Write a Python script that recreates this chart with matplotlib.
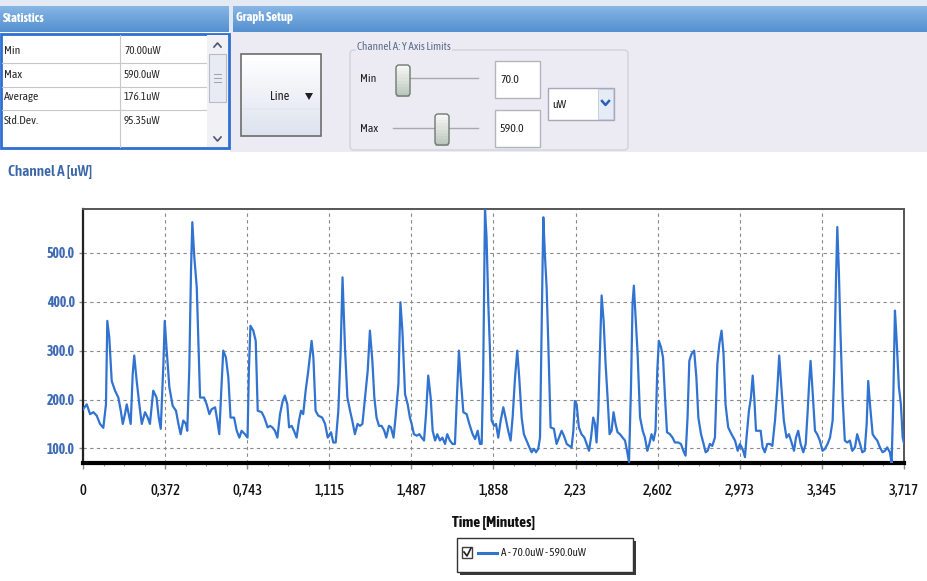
import numpy as np
import matplotlib
matplotlib.use('Agg')
import matplotlib.pyplot as plt
from matplotlib.patches import Rectangle, FancyBboxPatch
from matplotlib.ticker import MultipleLocator
from matplotlib.colors import to_rgb

# ---------------- data ----------------
time_min = [
    0.000, 0.017, 0.032, 0.047, 0.062, 0.077, 0.092, 0.104, 0.110, 0.119,
    0.130, 0.145, 0.160, 0.171, 0.180, 0.190, 0.198, 0.210, 0.216, 0.225,
    0.232, 0.243, 0.255, 0.266, 0.281, 0.293, 0.303, 0.318, 0.333, 0.343,
    0.352, 0.364, 0.370, 0.379, 0.391, 0.406, 0.421, 0.432, 0.442, 0.454,
    0.466, 0.472, 0.481, 0.489, 0.495, 0.504, 0.515, 0.522, 0.530, 0.548,
    0.560, 0.572, 0.582, 0.598, 0.608, 0.617, 0.626, 0.635, 0.647, 0.658,
    0.668, 0.684, 0.696, 0.708, 0.718, 0.733, 0.745,
    0.751, 0.758, 0.771, 0.782, 0.791, 0.809, 0.821, 0.836, 0.847, 0.857,
    0.869, 0.880, 0.892, 0.904, 0.914, 0.925, 0.933, 0.945, 0.955, 0.967,
    0.978, 0.987, 0.997, 1.008, 1.020, 1.035, 1.043, 1.053, 1.065, 1.083,
    1.096, 1.108, 1.123, 1.133, 1.144, 1.156, 1.166, 1.175, 1.186, 1.197,
    1.209, 1.219, 1.231, 1.243, 1.254, 1.265, 1.277, 1.289, 1.299, 1.310,
    1.319, 1.329, 1.340, 1.352, 1.364, 1.373, 1.385, 1.394, 1.406, 1.415,
    1.428, 1.437, 1.446, 1.458, 1.470, 1.480,
    1.488, 1.498, 1.511, 1.523, 1.533, 1.544, 1.553, 1.563, 1.574, 1.583,
    1.594, 1.604, 1.616, 1.627, 1.639, 1.649, 1.661, 1.673, 1.684, 1.692,
    1.702, 1.711, 1.722, 1.737, 1.749, 1.764, 1.775, 1.787, 1.797, 1.805,
    1.812, 1.820, 1.827, 1.835, 1.842, 1.850, 1.861, 1.870, 1.880, 1.891,
    1.903, 1.913, 1.925, 1.936, 1.945, 1.956, 1.966, 1.975, 1.986, 1.996,
    2.008, 2.021, 2.031, 2.042, 2.051, 2.061, 2.069, 2.076, 2.084, 2.091,
    2.099, 2.107, 2.117, 2.132, 2.144, 2.155, 2.167, 2.177, 2.190, 2.202,
    2.212, 2.220, 2.227, 2.235,
    2.245, 2.257, 2.270, 2.280, 2.291, 2.300, 2.310, 2.318, 2.325, 2.333,
    2.340, 2.348, 2.357, 2.366, 2.375, 2.384, 2.393, 2.402, 2.411, 2.420,
    2.431, 2.443, 2.454, 2.463, 2.472, 2.481, 2.488, 2.494, 2.502, 2.511,
    2.522, 2.534, 2.544, 2.555, 2.564, 2.574, 2.583, 2.592, 2.600, 2.607,
    2.617, 2.626, 2.635, 2.644, 2.657, 2.669, 2.680, 2.695, 2.707, 2.718,
    2.728, 2.737, 2.745, 2.755, 2.767, 2.777, 2.786, 2.798, 2.808, 2.819,
    2.828, 2.838, 2.849, 2.861, 2.872, 2.881, 2.891, 2.900, 2.909, 2.921,
    2.936, 2.952, 2.964, 2.974,
    2.982, 2.989, 2.997, 3.004, 3.015, 3.024, 3.032, 3.039, 3.047, 3.057,
    3.068, 3.077, 3.087, 3.098, 3.110, 3.121, 3.133, 3.143, 3.152, 3.163,
    3.173, 3.185, 3.196, 3.208, 3.219, 3.228, 3.238, 3.249, 3.261, 3.272,
    3.281, 3.288, 3.294, 3.303, 3.314, 3.324, 3.336, 3.348, 3.359, 3.371,
    3.382, 3.394, 3.401, 3.409, 3.415, 3.422, 3.430, 3.439, 3.449, 3.460,
    3.472, 3.483, 3.495, 3.505, 3.518, 3.528, 3.539, 3.548, 3.555, 3.563,
    3.575, 3.585, 3.596, 3.608, 3.620, 3.631, 3.641, 3.653, 3.661, 3.668,
    3.676, 3.683, 3.694, 3.703, 3.711, 3.717,
]
power_uw = [
    180, 190, 170, 174, 167, 150, 142, 190, 361, 327,
    238, 218, 204, 177, 150, 170, 190, 163, 150, 252,
    290, 238, 190, 150, 174, 163, 150, 218, 204, 163,
    140, 273, 361, 300, 225, 187, 177, 150, 129, 157,
    150, 136, 259, 464, 563, 491, 430, 327, 204, 204,
    190, 170, 180, 184, 157, 129, 218, 300, 286, 245,
    163, 163, 136, 122, 136, 129, 122,
    259, 351, 341, 320, 177, 174, 163, 143, 146, 143,
    136, 122, 170, 197, 208, 190, 143, 146, 136, 122,
    157, 177, 170, 218, 259, 320, 286, 177, 167, 163,
    150, 122, 133, 112, 112, 177, 293, 450, 307, 204,
    177, 157, 129, 150, 146, 150, 204, 259, 341, 279,
    204, 163, 146, 146, 136, 122, 146, 143, 122, 163,
    231, 399, 341, 211, 190, 163,
    150, 129, 126, 129, 122, 116, 170, 249, 204, 136,
    116, 129, 116, 122, 109, 129, 116, 109, 109, 197,
    300, 238, 174, 170, 150, 129, 119, 136, 109, 109,
    259, 590, 532, 395, 307, 157, 146, 150, 122, 157,
    184, 163, 136, 116, 163, 245, 300, 245, 163, 129,
    116, 102, 92, 99, 92, 99, 122, 327, 573, 498,
    430, 307, 143, 140, 109, 122, 136, 126, 109, 105,
    102, 136, 197, 190,
    143, 129, 122, 109, 95, 122, 163, 150, 112, 177,
    293, 413, 361, 273, 204, 129, 136, 174, 150, 133,
    129, 122, 116, 95, 72, 225, 396, 433, 368, 293,
    163, 136, 122, 95, 109, 129, 116, 136, 259, 320,
    307, 286, 204, 133, 129, 122, 112, 112, 109, 95,
    85, 163, 279, 293, 300, 245, 163, 129, 112, 92,
    95, 109, 105, 122, 273, 314, 341, 293, 190, 143,
    129, 116, 95, 109,
    102, 95, 82, 122, 177, 204, 249, 204, 136, 136,
    136, 102, 92, 109, 109, 105, 157, 218, 290, 218,
    157, 122, 129, 112, 95, 122, 136, 109, 92, 109,
    177, 238, 279, 218, 136, 129, 116, 95, 99, 109,
    122, 157, 259, 443, 553, 464, 327, 204, 116, 112,
    116, 95, 102, 129, 109, 92, 95, 150, 238, 190,
    129, 122, 116, 102, 92, 95, 102, 92, 70, 190,
    382, 327, 225, 190, 122, 110,
]

x_ticks = [0, 0.372, 0.743, 1.115, 1.487, 1.858, 2.23, 2.602, 2.973, 3.345, 3.717]
x_tick_labels = ['0', '0,372', '0,743', '1,115', '1,487', '1,858', '2,23',
                 '2,602', '2,973', '3,345', '3,717']
y_ticks = [100, 200, 300, 400, 500]
y_tick_labels = ['100.0', '200.0', '300.0', '400.0', '500.0']
y_min_limit = 70.0
y_max_limit = 590.0
x_max = 3.717

stats_labels = ['Min', 'Max', 'Average', 'Std.Dev.']
stats_values = ['70.00uW', '590.0uW', '176.1uW', '95.35uW']
unit_label = 'uW'
chart_title = 'Channel A [uW]'
x_label = 'Time [Minutes]'
legend_label = 'A - 70.0uW - 590.0uW'

# ---------------- style ----------------
NARROW = ['Asap Condensed', 'Archivo Narrow', 'DejaVu Sans']
LINE_COLOR = '#3173d0'
W, H = 928, 581

fig = plt.figure(figsize=(W / 100, H / 100), dpi=100)
fig.patch.set_facecolor('white')

ui = fig.add_axes([0, 0, 1, 1])
ui.set_xlim(0, W)
ui.set_ylim(H, 0)
ui.axis('off')


def mix(c1, c2, f):
    a, b = np.array(to_rgb(c1)), np.array(to_rgb(c2))
    return tuple(a + (b - a) * f)


def vgrad(x, y, w, h, c_top, c_bot, n=24, z=1):
    for i in range(n):
        ui.add_patch(Rectangle((x, y + i * h / n), w, h / n + 0.6,
                               facecolor=mix(c_top, c_bot, i / (n - 1)),
                               lw=0, zorder=z))


def txt(x, y, s, size=8, color='#202020', weight='normal', ha='left', z=5, **kw):
    ui.text(x, y, s, fontsize=size, color=color, fontweight=weight, ha=ha,
            va='center', family=NARROW, zorder=z, **kw)


# top strip and panel background
ui.add_patch(Rectangle((0, 0), W, 6, facecolor='#e4eaf4', lw=0, zorder=0))
ui.add_patch(Rectangle((230, 31), W - 230, 121, facecolor='#ecebf3', lw=0, zorder=0))

# headers
vgrad(0, 6, 229, 25, '#86b6e4', '#5690cf', z=1)
vgrad(233, 6, W - 233, 25, '#86b6e4', '#5690cf', z=1)
ui.add_patch(Rectangle((229, 6), 4, 25, facecolor='#dfe7f2', lw=0, zorder=1))
txt(3, 18, 'Statistics', size=9, color='white', weight='bold')
txt(236, 18, 'Graph Setup', size=9, color='white', weight='bold')

# statistics table
ui.add_patch(Rectangle((1, 34), 228, 114, facecolor='white', edgecolor='#2d6fd3',
                       lw=2, zorder=2))
for yy in [63, 87, 110]:
    ui.plot([2, 206], [yy, yy], color='#c8c8c8', lw=0.8, zorder=3)
ui.plot([120, 120], [35, 147], color='#c8c8c8', lw=0.8, zorder=3)
row_y = [50, 74, 97, 120]
for lab, val, yy in zip(stats_labels, stats_values, row_y):
    txt(4, yy, lab, size=8.5, color='#2a2a2a')
    txt(124, yy, val, size=8, color='#2a2a2a')
# scrollbar
ui.add_patch(Rectangle((207, 35), 21, 112, facecolor='#f1f1f5', lw=0, zorder=3))
ui.add_patch(Rectangle((209, 54), 17, 48, facecolor='#e9ebf2', edgecolor='#b8bcc8',
                       lw=0.8, zorder=4))
for yy in [74, 78, 82]:
    ui.plot([214, 221], [yy, yy], color='#9aa0ae', lw=0.7, zorder=5)
ui.plot([214, 217.5, 221], [47, 43, 47], color='#4a5670', lw=1.2, zorder=5)
ui.plot([214, 217.5, 221], [137, 141, 137], color='#4a5670', lw=1.2, zorder=5)

# "Line" button
vgrad(241, 54, 80, 82, '#ffffff', '#dde2ee', z=2)
ui.add_patch(Rectangle((241, 108), 80, 2, facecolor='#e3e7f1', lw=0, zorder=3))
ui.add_patch(Rectangle((241, 54), 80, 82, facecolor='none', edgecolor='#6d6d6d',
                       lw=1.2, zorder=4))
txt(270, 97, 'Line', size=9)
ui.add_patch(plt.Polygon([[305, 93], [313, 93], [309, 100]], closed=True,
                         facecolor='#202020', lw=0, zorder=5))

# group box
ui.add_patch(FancyBboxPatch((350, 50), 278, 100, boxstyle='round,pad=0,rounding_size=4',
                            facecolor='none', edgecolor='#d2d2dc', lw=1, zorder=2))
ui.text(357, 46, 'Channel A: Y Axis Limits', fontsize=8, color='#5d6d8c',
        family=NARROW, va='center', ha='left', zorder=5,
        bbox=dict(facecolor='#ecebf3', edgecolor='none', pad=0.5))

txt(360, 78, 'Min', size=8.5)
txt(360, 128, 'Max', size=8.5)
ui.plot([400, 478], [78, 78], color='#a8a8b0', lw=1, zorder=3)
ui.plot([393, 478], [128, 128], color='#a8a8b0', lw=1, zorder=3)
for tx, ty in [(396, 65), (435, 114)]:
    vgrad(tx, ty, 14, 31, '#f7f7f7', '#bcc7bb', n=10, z=4)
    ui.add_patch(FancyBboxPatch((tx, ty), 14, 31, boxstyle='round,pad=0,rounding_size=3',
                                facecolor='none', edgecolor='#6e7a70', lw=1, zorder=5))

# text boxes
for by, val in [(61, y_min_limit), (110, y_max_limit)]:
    ui.add_patch(Rectangle((495, by), 45, 37, facecolor='white', edgecolor='#b4b4bc',
                           lw=1, zorder=3))
    txt(500, by + 18.5, f'{val:.1f}', size=8.5)

# unit combo
ui.add_patch(Rectangle((548, 88), 66, 32, facecolor='white', edgecolor='#a8a8b8',
                       lw=1, zorder=3))
ui.add_patch(Rectangle((598, 89), 15, 30, facecolor='#e6ecf6', edgecolor='#c0c8d8',
                       lw=0.6, zorder=4))
ui.plot([602, 605.5, 609], [101, 105, 101], color='#2c5fb8', lw=1.8, zorder=5)
txt(552, 104, unit_label, size=8.5)

# chart title
txt(8, 172, chart_title, size=11, color='#3b67a8', weight='semibold')

# ---------------- chart ----------------
ax = fig.add_axes([83 / W, 1 - 463 / H, 821 / W, 254 / H])
ax.set_facecolor('white')
ax.plot(time_min, power_uw, color=LINE_COLOR, lw=1.6, solid_joinstyle='round', zorder=3)
ax.set_xlim(0, x_max)
ax.set_ylim(y_min_limit, y_max_limit)

ax.set_xticks(x_ticks)
ax.set_xticklabels(x_tick_labels, family=NARROW, fontsize=10.5, color='#111111',
                   fontweight='medium')
ax.xaxis.set_minor_locator(MultipleLocator(x_max / 40))
ax.set_yticks(y_ticks)
ax.set_yticklabels(y_tick_labels, family=NARROW, fontsize=10, color='#3f6bb5',
                   fontweight='bold')
ax.tick_params(axis='x', which='major', length=4, width=1, color='#888888', pad=11)
ax.tick_params(axis='x', which='minor', length=2.5, width=0.8, color='#999999')
ax.tick_params(axis='y', length=3, width=1, color='#888888', pad=3)

ax.grid(True, which='major', linestyle=(0, (3, 3)), color='#8a8a8a', lw=0.8, zorder=1)

for side in ['top', 'right']:
    ax.spines[side].set_color('#555555')
    ax.spines[side].set_linewidth(1.4)
ax.spines['left'].set_color('#222222')
ax.spines['left'].set_linewidth(1.6)
ax.spines['bottom'].set_color('#000000')
ax.spines['bottom'].set_linewidth(3)

ax.set_xlabel(x_label, family=NARROW, fontsize=11, color='#111111',
              fontweight='bold', labelpad=13)

# ---------------- legend ----------------
ui.add_patch(Rectangle((460, 541), 176, 34, facecolor='#3a3a3a', lw=0, zorder=2))
ui.add_patch(Rectangle((457, 538), 176, 34, facecolor='white', edgecolor='#333333',
                       lw=1, zorder=3))
ui.add_patch(Rectangle((462, 547), 10, 11, facecolor='white', edgecolor='#404040',
                       lw=1, zorder=4))
ui.plot([464, 467, 471], [552, 556, 548], color='#202020', lw=1.2, zorder=5)
ui.plot([478, 497], [553, 553], color=LINE_COLOR, lw=2.2, zorder=5)
txt(501, 553, legend_label, size=8)

fig.savefig('out.png', dpi=100, facecolor='white')
